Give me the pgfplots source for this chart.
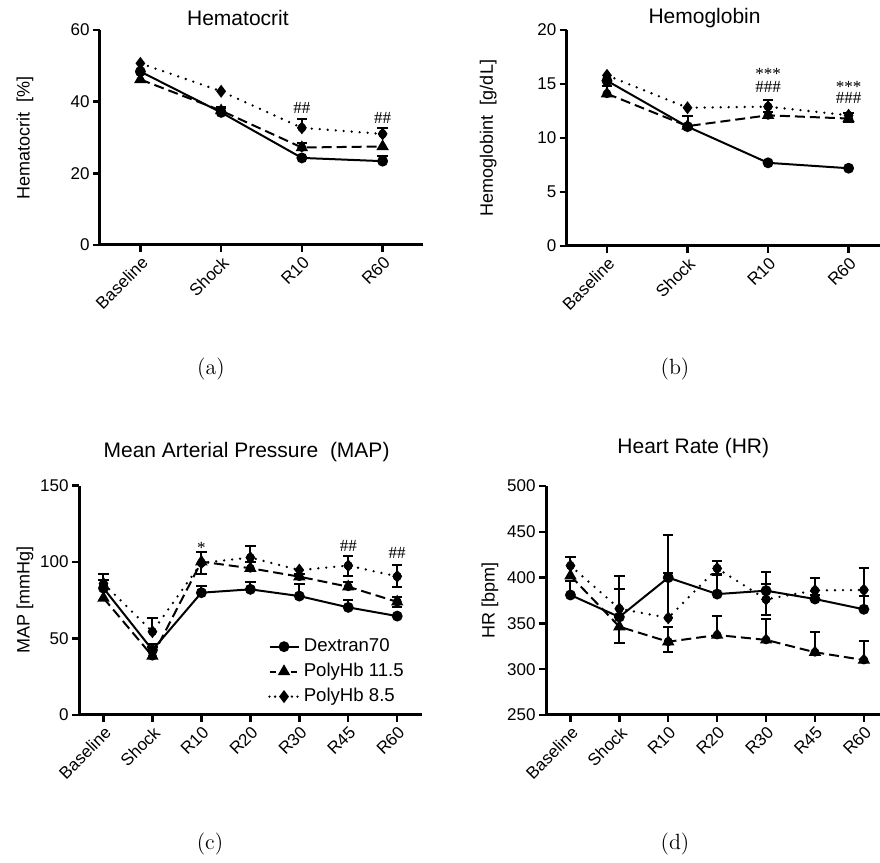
\documentclass[border=0pt]{standalone}
\usepackage{pgfplots}
\pgfplotsset{compat=1.18}
\usepackage{fontspec}
\newfontfamily\arial{Liberation Sans}
\newfontfamily\serif{Liberation Serif}
\newcommand\tickf{\arial\fontsize{8.5}{10}\selectfont}
\newcommand\labf{\arial\fontsize{9}{11}\selectfont}
\newcommand\titf{\arial\fontsize{10.5}{12}\selectfont}
\newcommand\legf{\arial\fontsize{9.3}{11}\selectfont}
\newcommand\capf{\fontsize{11}{13}\selectfont}
\newcommand\sigf{\serif\fontsize{8.5}{10}\selectfont}

\tikzset{sig/.style={font=\sigf, inner sep=0pt}}

\pgfplotsset{
  gp/.style={
    scale only axis, anchor=south west,
    axis x line*=bottom, axis y line*=left,
    axis line style={line width=1.5pt, black},
    tick align=outside, major tick length=3.5pt,
    every tick/.style={line width=1.2pt, black},
    minor tick num=0,
    tick label style={font=\tickf},
    /pgf/number format/assume math mode=true,
    xticklabel style={rotate=45, anchor=north east, inner sep=1pt},
    yticklabel style={inner sep=1.5pt},
    title style={font=\titf, anchor=center},
    ylabel style={font=\labf, at={(axis description cs:0,0.5)}, anchor=center},
    clip=false,
  },
  dex/.style={black, line width=1pt, solid, mark=*, mark size=2.2pt, mark options={solid}},
  p115/.style={black, line width=1pt, dash pattern=on 5pt off 2.5pt, mark=triangle*, mark size=2.6pt, mark options={solid},
    legend image post style={dash pattern=on 3pt off 2.25pt}},
  p85/.style={black, line width=1.3pt, dash pattern=on 0pt off 4pt, line cap=round, mark=diamond*, mark size=2.2pt, mark options={solid},
    legend image post style={dash pattern=on 0pt off 2.8pt}},
  ebp/.style={black, only marks, mark=none, forget plot,
    error bars/.cd, y dir=plus, y explicit,
    error bar style={line width=1pt, solid},
    error mark options={rotate=90, mark size=2.6pt, line width=1pt, solid}},
  ebm/.style={black, only marks, mark=none, forget plot,
    error bars/.cd, y dir=minus, y explicit,
    error bar style={line width=1pt, solid},
    error mark options={rotate=90, mark size=2.6pt, line width=1pt, solid}},
}

\begin{document}
\begin{tikzpicture}[font=\arial]
\useasboundingbox (0,0) rectangle (440pt,431.5pt);

% (a) Hematocrit
\begin{axis}[gp, at={(50pt,309pt)}, width=161.5pt, height=107.5pt,
  xmin=-0.5, xmax=3.5, ymin=0, ymax=60, ytick={0,20,40,60},
  xtick={0,1,2,3}, xticklabels={Baseline,Shock,R10,R60},
  title={Hematocrit}, title style={at={(0.427,1)}, yshift=0pt},
  ylabel={Hematocrit\ \ [\%]}, ylabel style={yshift=37.5pt}]
\addplot[ebp] table[row sep=\\, y error index=2] {x y e\\ 1 37.0 1.1\\ 3 23.4 1.4\\ 1 37.5 0.9\\ 2 27.2 1.2\\ 2 32.7 2.6\\ 3 31.0 1.6\\};
\addplot[dex] table[row sep=\\] {x y\\ 0 48.4\\ 1 37.0\\ 2 24.3\\ 3 23.4\\};
\addplot[p115] table[row sep=\\] {x y\\ 0 46.2\\ 1 37.5\\ 2 27.2\\ 3 27.5\\};
\addplot[p85] table[row sep=\\] {x y\\ 0 50.7\\ 1 42.9\\ 2 32.7\\ 3 31.0\\};
\node[sig] at (axis cs:2,38.2) {\#\#};
\node[sig] at (axis cs:3,35.4) {\#\#};
\end{axis}

% (b) Hemoglobin
\begin{axis}[gp, at={(283.35pt,308.5pt)}, width=156.65pt, height=108pt,
  xmin=-0.5, xmax=3.39, ymin=0, ymax=20, ytick={0,5,10,15,20},
  xtick={0,1,2,3}, xticklabels={Baseline,Shock,R10,R60},
  title={Hemoglobin}, title style={at={(0.44,1)}, yshift=0pt},
  ylabel={Hemoglobint\ \ [g/dL]}, ylabel style={yshift=39.3pt}]
\addplot[ebp] table[row sep=\\, y error index=2] {x y e\\ 0 14.1 0.7\\ 1 11.1 0.9\\ 2 12.1 0.3\\ 2 12.9 0.65\\ 3 12.1 0.2\\};
\addplot[ebm] table[row sep=\\, y error index=2] {x y e\\ 3 11.8 0.3\\};
\addplot[dex] table[row sep=\\] {x y\\ 0 15.3\\ 1 11.05\\ 2 7.7\\ 3 7.2\\};
\addplot[p115] table[row sep=\\] {x y\\ 0 14.1\\ 1 11.1\\ 2 12.1\\ 3 11.8\\};
\addplot[p85] table[row sep=\\] {x y\\ 0 15.8\\ 1 12.8\\ 2 12.9\\ 3 12.1\\};
\node[sig] at (axis cs:2,15.95) {***};
\node[sig] at (axis cs:2,14.7) {\#\#\#};
\node[sig] at (axis cs:3,14.75) {***};
\node[sig] at (axis cs:3,13.75) {\#\#\#};
\end{axis}

% (c) MAP
\begin{axis}[gp, at={(39.5pt,74pt)}, width=171.35pt, height=114.65pt,
  xmin=-0.5, xmax=6.5, ymin=0, ymax=150, ytick={0,50,100,150},
  xtick={0,...,6}, xticklabels={Baseline,Shock,R10,R20,R30,R45,R60},
  title={Mean Arterial Pressure\ \ (MAP)}, title style={at={(0.489,1)}, yshift=11pt},
  ylabel={MAP [mmHg]}, ylabel style={yshift=27pt},
  legend style={draw=none, fill=none, font=\legf, at={(0.551,0.352)}, anchor=north west,
    inner sep=0pt, row sep=0.3pt, cells={anchor=west}},
  legend image code/.code={\draw[mark repeat=2,mark phase=2] plot coordinates {(0pt,0pt)(7.25pt,0pt)(14.5pt,0pt)};}]
\addplot[ebp] table[row sep=\\, y error index=2] {x y e\\ 0 83 5\\ 1 42.5 4\\ 2 80 4.4\\ 3 82.2 5\\ 4 77.8 8\\ 5 70.4 4.6\\
  1 38.5 6\\ 3 96 4\\ 4 90.5 1.5\\ 5 83.9 3.3\\ 6 74 3.4\\
  0 86 6\\ 1 54.5 8.7\\ 2 99.5 7.3\\ 3 103 7.6\\ 5 97.7 6.5\\ 6 90.7 7.5\\};
\addplot[ebm] table[row sep=\\, y error index=2] {x y e\\ 2 99.5 7\\ 5 97.7 7\\ 6 90.7 7\\ 6 74 3.2\\};
\addplot[dex] table[row sep=\\] {x y\\ 0 83\\ 1 42.5\\ 2 80\\ 3 82.2\\ 4 77.8\\ 5 70.4\\ 6 64.7\\};
\addplot[p115] table[row sep=\\] {x y\\ 0 76.5\\ 1 38.5\\ 2 100.3\\ 3 96\\ 4 90.5\\ 5 83.9\\ 6 74\\};
\addplot[p85] table[row sep=\\] {x y\\ 0 86\\ 1 54.5\\ 2 99.5\\ 3 103\\ 4 94.8\\ 5 97.7\\ 6 90.7\\};
\legend{Dextran70, PolyHb 11.5, PolyHb 8.5}
\node[sig] at (axis cs:2,109.5) {*};
\node[sig] at (axis cs:5,110.5) {\#\#};
\node[sig] at (axis cs:6,106) {\#\#};
\end{axis}

% (d) HR
\begin{axis}[gp, at={(273pt,74pt)}, width=167pt, height=114.5pt,
  xmin=-0.5, xmax=6.33, ymin=250, ymax=500, ytick={250,300,...,500},
  xtick={0,...,6}, xticklabels={Baseline,Shock,R10,R20,R30,R45,R60},
  title={Heart Rate (HR)}, title style={at={(0.441,1)}, yshift=12.9pt},
  ylabel={HR [bpm]}, ylabel style={yshift=28pt}]
\addplot[ebp] table[row sep=\\, y error index=2] {x y e\\ 0 381 15\\ 1 357 31\\ 2 400 46\\ 3 382 21\\ 4 385.7 20\\ 5 376.6 4\\ 6 365.4 15\\
  2 330 16\\ 3 337.3 21\\ 4 332 23\\ 5 318.5 22\\ 6 310 21\\
  0 413 10\\ 1 366 36\\ 2 356 49\\ 3 410 8\\ 4 376.3 17\\ 5 386 14\\ 6 386.5 24\\};
\addplot[ebm] table[row sep=\\, y error index=2] {x y e\\ 1 357 28\\ 2 330 11\\ 3 410 6\\ 4 376.3 17\\};
\addplot[dex] table[row sep=\\] {x y\\ 0 381\\ 1 357\\ 2 400\\ 3 382\\ 4 385.7\\ 5 376.6\\ 6 365.4\\};
\addplot[p115] table[row sep=\\] {x y\\ 0 402\\ 1 346.4\\ 2 330\\ 3 337.3\\ 4 332\\ 5 318.5\\ 6 310\\};
\addplot[p85] table[row sep=\\] {x y\\ 0 413\\ 1 366\\ 2 356\\ 3 410\\ 4 376.3\\ 5 386\\ 6 386.5\\};
\end{axis}

\node[font=\capf] at (105.5pt,247pt) {(a)};
\node[font=\capf] at (337.5pt,247pt) {(b)};
\node[font=\capf] at (105pt,9.5pt) {(c)};
\node[font=\capf] at (337.5pt,9.5pt) {(d)};
\end{tikzpicture}
\end{document}
